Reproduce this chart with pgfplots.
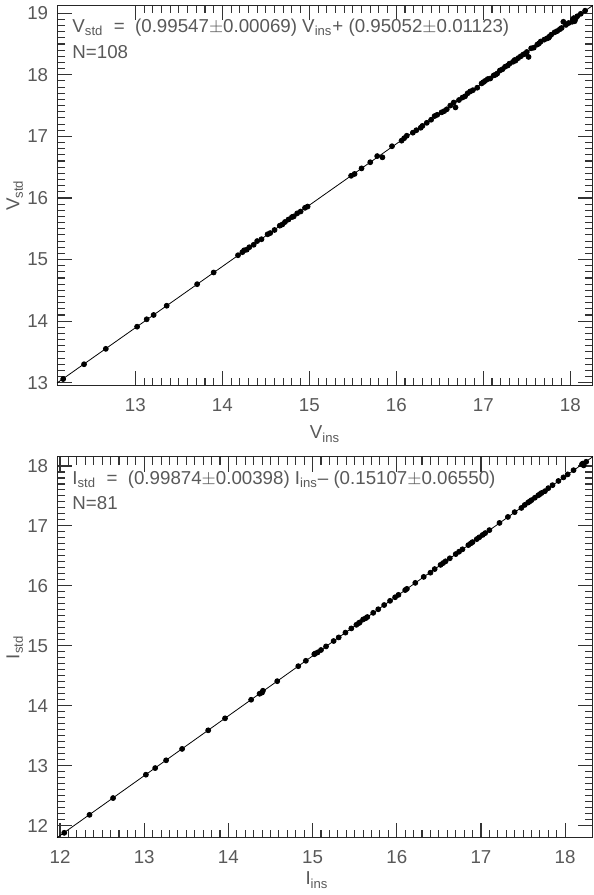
\documentclass[border=0pt]{standalone}
\usepackage{fontspec}
\setmainfont{Liberation Sans}
\usepackage{pgfplots}
\pgfplotsset{compat=1.18}
\definecolor{txt}{gray}{0.35}

\pgfplotsset{
  idl/.style={
    scale only axis,
    width=271bp, height=192.5bp,
    axis line style={line width=0.5bp, black!85},
    tick style={line width=0.55bp, black!80},
    tick align=inside,
    major tick length=7.5bp,
    minor tick length=4bp,
    minor x tick num=9, minor y tick num=9,
    xtick pos=both, ytick pos=both,
    xticklabel pos=bottom, yticklabel pos=left,
    ticklabel style={font=\fontsize{9.5}{11}\selectfont, text=txt},
    label style={font=\fontsize{9.5}{11}\selectfont, text=txt},
    /pgf/number format/assume math mode=true,
    xticklabel style={yshift=-3bp},
    yticklabel style={xshift=-1bp},
    ylabel style={at={(axis description cs:-0.079,0.5)}, anchor=center},
    clip=false,
  },
  pts/.style={only marks, mark=*, mark size=1.25bp, black},
  fit/.style={line width=0.4bp, black},
}

\begin{document}
\begin{tikzpicture}
\begin{axis}[idl, name=top,
    xmin=12.10, xmax=18.26, ymin=12.95, ymax=19.13,
    xtick={13,14,15,16,17,18}, ytick={13,14,15,16,17,18,19},
    xlabel={V\textsubscript{ins}}, ylabel={V\textsubscript{std}},
    xlabel style={at={(axis description cs:0.5,-0.127)}, anchor=center},
]
\addplot[fit] coordinates {(12.10,12.996) (18.26,19.128)};
\addplot[pts] coordinates {
(12.17,13.06) (12.41,13.30) (12.66,13.55) (13.02,13.91) (13.13,14.03)
(13.21,14.10) (13.36,14.25) (13.71,14.60) (13.90,14.79)
(14.18,15.07) (14.25,15.15) (14.28,15.16) (14.31,15.20) (14.36,15.24)
(14.40,15.30) (14.45,15.33) (14.52,15.41) (14.60,15.48) (14.66,15.55)
(14.69,15.57) (14.72,15.61) (14.76,15.65) (14.82,15.70) (14.86,15.75)
(14.90,15.78) (14.95,15.84) (14.98,15.86)
(15.48,16.36) (15.60,16.48) (15.70,16.58) (15.78,16.68) (15.84,16.66)
(15.95,16.84)
(16.06,16.93) (16.09,16.97) (16.12,17.01) (16.19,17.06) (16.23,17.10)
(16.28,17.14) (16.35,17.22) (16.40,17.27) (16.44,17.33) (16.47,17.35)
(16.52,17.39) (16.58,17.44) (16.62,17.50) (16.66,17.55) (16.68,17.47)
(16.72,17.59) (16.76,17.63) (16.82,17.70) (16.88,17.75) (16.93,17.79)
(16.98,17.86)
(17.02,17.90) (17.05,17.93) (17.08,17.94) (17.12,17.99) (17.16,18.02)
(17.19,18.07) (17.22,18.09) (17.25,18.13) (17.28,18.15) (17.30,18.18)
(17.34,18.21) (17.37,18.23) (17.40,18.27) (17.43,18.30) (17.46,18.33)
(17.50,18.37) (17.52,18.29) (17.55,18.43) (17.58,18.44) (17.62,18.49)
(17.66,18.54) (17.70,18.57) (17.73,18.59) (17.76,18.62) (17.78,18.65)
(17.82,18.69) (17.85,18.71) (17.88,18.74) (17.92,18.86) (17.95,18.81)
(17.98,18.84)
(18.02,18.86) (18.04,18.92) (18.05,18.87) (18.08,18.95) (18.12,18.99)
(18.17,19.04)
(16.85,17.73) (17.00,17.88) (17.36,18.24) (17.48,18.34) (17.75,18.60)
(18.03,18.90) (18.06,18.91) (14.23,15.12) (14.55,15.43) (14.80,15.69)
(16.30,17.17) (16.55,17.41) (16.79,17.65) (17.14,18.00) (17.64,18.51)
(17.90,18.76) (15.52,16.39)
};
\node[anchor=north west, inner sep=0pt, text=txt, font=\fontsize{9.5}{11}\selectfont, align=left]
  at (rel axis cs:0.028,0.965)
  {V\textsubscript{std}\ \ =\ \ (0.99547$\pm$0.00069) V\textsubscript{ins}+\ (0.95052$\pm$0.01123)\\[2bp] N=108};
\end{axis}

\begin{axis}[idl, at={(top.south west)}, anchor=north west, yshift=-36bp,
    xmin=11.965, xmax=18.33, ymin=11.80, ymax=18.15,
    xtick={12,13,14,15,16,17,18}, ytick={12,13,14,15,16,17,18},
    xlabel={I\textsubscript{ins}}, ylabel={I\textsubscript{std}},
    xlabel style={at={(axis description cs:0.485,-0.112)}, anchor=center},
]
\addplot[fit] coordinates {(11.965,11.799) (18.33,18.156)};
\addplot[pts] coordinates {
(12.05,11.88) (12.35,12.18) (12.63,12.46) (13.02,12.85) (13.13,12.96)
(13.26,13.09) (13.45,13.28) (13.76,13.59) (13.96,13.79)
(14.27,14.10) (14.37,14.20) (14.41,14.25) (14.58,14.41) (14.83,14.66)
(14.92,14.75)
(15.02,14.86) (15.06,14.89) (15.10,14.93) (15.16,14.99) (15.25,15.08)
(15.31,15.14) (15.39,15.22) (15.46,15.29) (15.52,15.35) (15.56,15.39)
(15.60,15.44) (15.65,15.48) (15.72,15.55) (15.78,15.61) (15.85,15.68)
(15.92,15.75) (15.98,15.81)
(16.02,15.85) (16.10,15.93) (16.22,16.05) (16.32,16.15) (16.40,16.22)
(16.45,16.28) (16.52,16.35) (16.58,16.41) (16.63,16.46) (16.70,16.53)
(16.74,16.57) (16.78,16.61) (16.85,16.68) (16.90,16.73) (16.95,16.78)
(17.02,16.85) (17.10,16.93) (17.22,17.05) (17.32,17.15) (17.40,17.23)
(17.48,17.30) (17.52,17.35) (17.56,17.39) (17.60,17.43) (17.64,17.47)
(17.68,17.51) (17.72,17.55) (17.76,17.58) (17.80,17.63) (17.85,17.68)
(17.92,17.75) (17.98,17.81)
(18.03,17.86) (18.10,17.93) (18.20,18.03) (18.22,18.01) (18.25,18.07)
(18.21,18.04)
(15.55,15.38) (15.63,15.46) (15.03,14.87) (16.55,16.38) (16.88,16.71)
(17.58,17.41) (17.70,17.53) (14.40,14.22) (16.12,15.95) (17.05,16.88)
(16.98,16.81)
};
\node[anchor=north west, inner sep=0pt, text=txt, font=\fontsize{9.5}{11}\selectfont, align=left]
  at (rel axis cs:0.028,0.965)
  {I\textsubscript{std}\ \ =\ \ (0.99874$\pm$0.00398) I\textsubscript{ins}--\ (0.15107$\pm$0.06550)\\[2bp] N=81};
\end{axis}
\end{tikzpicture}
\end{document}
